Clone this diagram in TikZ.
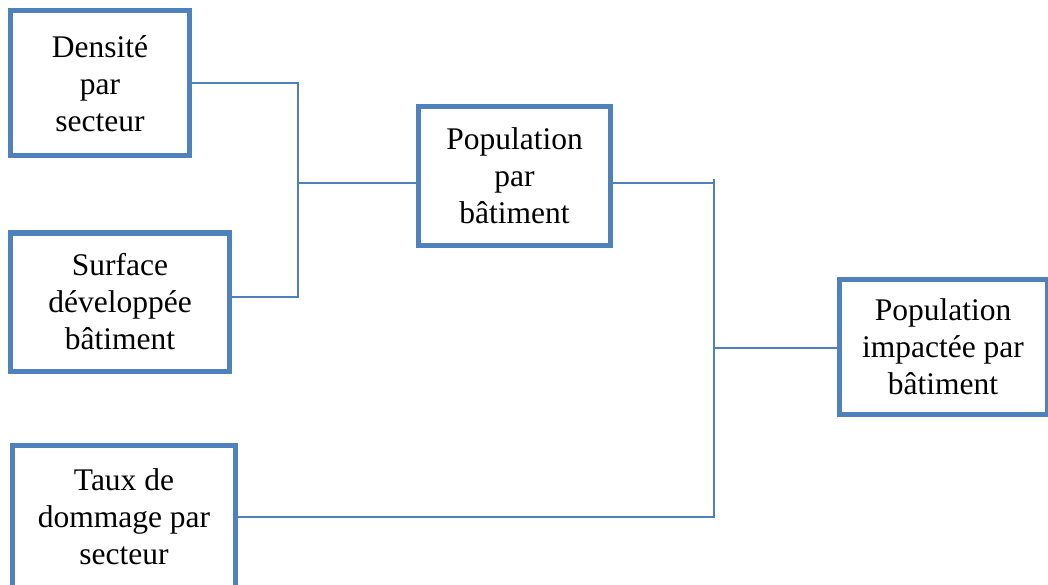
\documentclass[tikz,border=0pt]{standalone}
\usepackage{fontspec}
\setmainfont{Liberation Serif}
\usepackage{xcolor}
\definecolor{boxblue}{HTML}{4F81BD}
\usetikzlibrary{positioning}

\begin{document}
\begin{tikzpicture}[x=1pt,y=-1pt,
      box/.style={draw=boxblue,line width=5pt,fill=white,align=center,inner sep=0pt,
        font=\fontsize{31.5}{37}\selectfont},
      link/.style={draw=boxblue,line width=2pt}]
      \useasboundingbox (0,0) rectangle (1048,585);
      \begin{scope}
      \clip (0,0) rectangle (1048,585);
      % inputs
      \node[box,minimum width=179,minimum height=145] (densite) at (100,83.5) {Densit\'e\\par\\secteur};
      \node[box,minimum width=219,minimum height=138] (surface) at (120,302) {Surface\\d\'evelopp\'ee\\b\^atiment};
      \node[box,minimum width=223,minimum height=144] (taux) at (124,517) {Taux de\\dommage par\\secteur};
      % results
      \node[box,minimum width=192,minimum height=139] (popbat) at (514.5,176) {Population\\par\\b\^atiment};
      \node[box,minimum width=208,minimum height=135] (popimp) at (943,346.5) {Population\\impact\'ee par\\b\^atiment};
      \end{scope}

      \coordinate (j1) at (298,183);
      \coordinate (j2) at (714,348);
      \coordinate (j2top) at (714,179);

      \path[link]
        (densite.east) -- (densite.east -| j1) -- ([yshift=5]surface.east -| j1) -- ([yshift=5]surface.east)
        (j1) -- (popbat.west |- j1)
        (popbat.east |- j1) -- (j2top |- j1)
        (j2top) -- (j2 |- taux.east) -- (taux.east)
        (j2) -- (popimp.west |- j2);
    \end{tikzpicture}
\end{document}
